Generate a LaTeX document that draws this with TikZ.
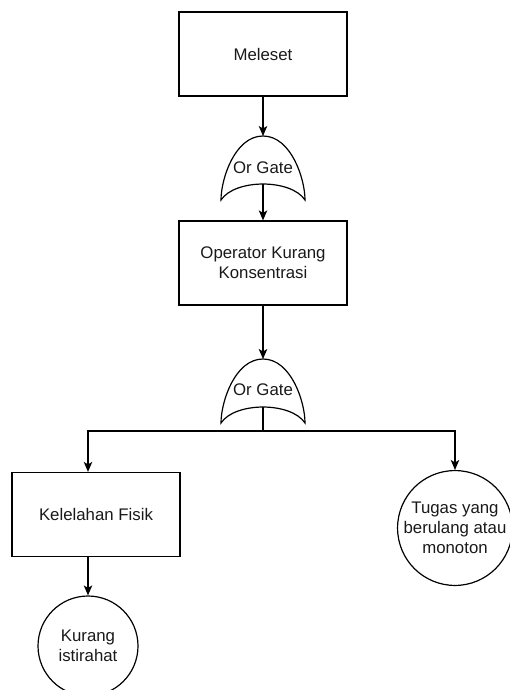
\documentclass[tikz,border=0pt]{standalone}
\usepackage{fontspec}
\setmainfont{Liberation Sans}
\usetikzlibrary{arrows.meta}
\begin{document}
\begin{tikzpicture}[x=1pt,y=-1pt,
  every node/.style={font=\fontsize{16.8}{20}\selectfont, text=black!90},
  line/.style={line width=1.2pt, draw=black},
  arr/.style={line, -{Stealth[length=10pt,width=8.5pt,inset=2.5pt]}},
  stepbox/.style={line, rectangle, minimum width=168pt, minimum height=84pt, inner sep=0pt, align=center},
  event/.style={line, circle, inner sep=0pt, align=center},
  gatelabel/.style={inner sep=0pt},
  orgate/.pic={
    \draw[line] (-42,32) .. controls (-42,10.7) and (-28,-32) .. (0,-32)
                .. controls (28,-32) and (42,10.7) .. (42,32)
                .. controls (28,10.7) and (-28,10.7) .. cycle;
  }]
\useasboundingbox (0,0) rectangle (510,690);

% top event and first gate
\node[stepbox] (mel) at (263,54) {Meleset};
\pic at (263,168) {orgate};
\node[gatelabel] (g1) at (263,168) {Or Gate};
\coordinate (g1in) at (263,136);
\coordinate (g1out) at (263,184);

% intermediate event and second gate
\node[stepbox] (opk) at (263,263) {Operator Kurang\\Konsentrasi};
\pic at (263,391) {orgate};
\node[gatelabel] (g2) at (263,390) {Or Gate};
\coordinate (g2in) at (263,359);
\coordinate (g2out) at (263,407);
\coordinate (split) at (263,431);

% lower events
\node[stepbox] (kel) at (96,514.5) {Kelelahan Fisik};
\node[event, minimum size=100pt] (kur) at (88,646) {Kurang\\istirahat};
\node[event, minimum size=108pt] (tug) at (455,528) {Tugas yang\\berulang atau\\monoton};

% connectors
\draw[arr] (mel.south) -- (g1in);
\draw[arr] (g1out) -- (opk.north);
\draw[arr] (opk.south) -- (g2in);
\draw[line] (g2out) -- (split);
\draw[arr] (split) -| (kur.north |- kel.north);
\draw[arr] (split) -| (tug.north);
\draw[arr] (kur.north |- kel.south) -- (kur.north);
\end{tikzpicture}
\end{document}
